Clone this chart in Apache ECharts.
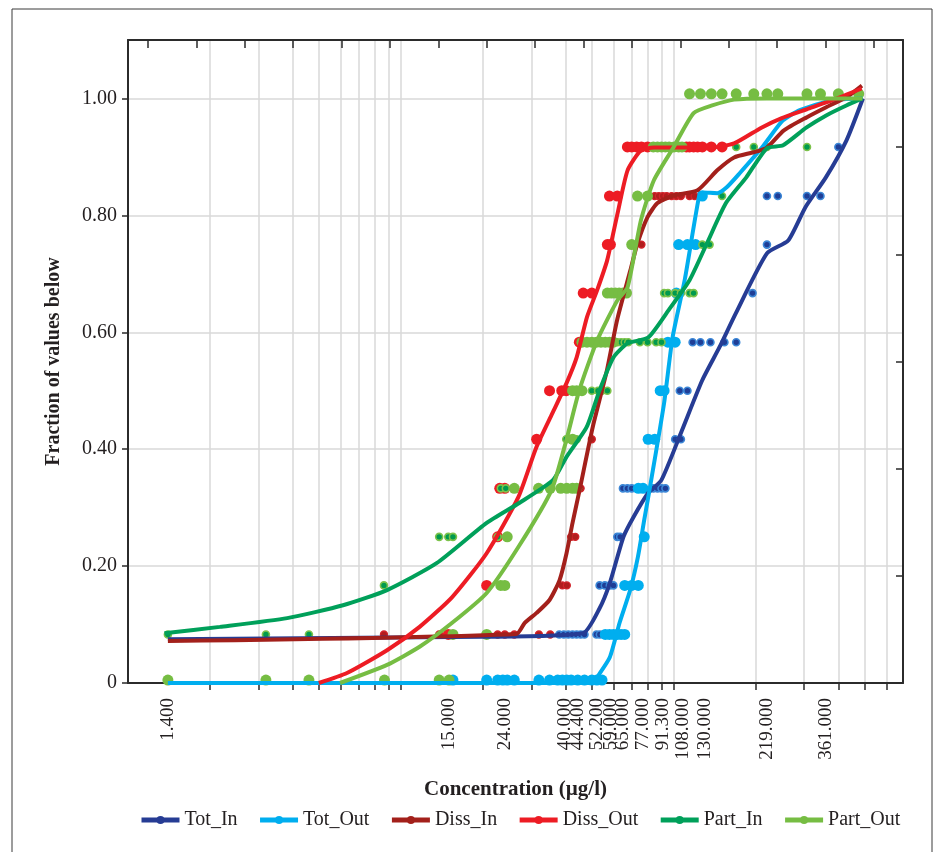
<!DOCTYPE html>
<html>
<head>
<meta charset="utf-8">
<script src="https://cdn.jsdelivr.net/npm/echarts@6/dist/echarts.min.js"></script>
<style>
  html, body { margin: 0; padding: 0; background: #fff; }
  #chart { width: 940px; height: 852px; }
</style>
</head>
<body>
<div id="chart"></div>
<script>
// Cumulative distribution of concentrations (µg/l), inflow vs outflow
const seriesNames = ['Tot_In', 'Tot_Out', 'Diss_In', 'Diss_Out', 'Part_In', 'Part_Out'];
const seriesColors = ['#263C94', '#00AEEF', '#A3201B', '#ED1C24', '#00A05A', '#76BD43'];

// Labelled concentrations along the bottom axis
const xLabelValues = [1.4, 15, 24, 40, 44.4, 52.2, 59, 65, 77, 91.3, 108, 130, 219, 361];
// Log grid positions (tick marks and vertical grid lines)
const xTickValues = [2, 3, 4, 5, 6, 7, 8, 9, 10, 20, 30, 40, 50, 60, 70, 80, 90, 100, 200, 300, 400, 500, 600];
const yTickValues = [0, 0.2, 0.4, 0.6, 0.8, 1.0];

// Fitted curves: [concentration, fraction]
const totInCurve = [[1.4, 0.075], [20, 0.079], [46.3, 0.085], [53.4, 0.128], [58.2, 0.171], [65.3, 0.25], [71.1, 0.284], [80.4, 0.325], [89.9, 0.347], [106.9, 0.432], [126.9, 0.518], [146.6, 0.574], [168.2, 0.632], [219, 0.735], [262, 0.757], [303, 0.814], [360, 0.865], [428, 0.928], [492, 1.0]];
const totOutCurve = [[1.4, 0.0], [50.8, 0.0], [52.1, 0.0085], [58.2, 0.044], [63.2, 0.103], [69.1, 0.159], [73.7, 0.215], [77.8, 0.279], [82.5, 0.347], [92.0, 0.479], [98.8, 0.591], [109.7, 0.692], [124.2, 0.838], [127.5, 0.839], [144, 0.838], [156, 0.848], [174, 0.872], [210, 0.916], [250, 0.962], [289, 0.98], [380, 0.997], [490, 1.0]];
const dissInCurve = [[1.4, 0.072], [26.5, 0.084], [28.4, 0.103], [31.4, 0.12], [35.0, 0.142], [38.1, 0.176], [40.4, 0.222], [42.5, 0.274], [45.1, 0.33], [50.4, 0.438], [56.8, 0.535], [61.9, 0.621], [69.2, 0.706], [73.5, 0.752], [80, 0.797], [87, 0.821], [99.5, 0.834], [122, 0.843], [144, 0.877], [166, 0.899], [196, 0.908], [219, 0.916], [252, 0.945], [307, 0.968], [361, 0.985], [428, 1.002], [488, 1.022]];
const dissOutCurve = [[5.0, 0.0], [6.34, 0.017], [8.89, 0.056], [11.7, 0.096], [15.4, 0.147], [20.6, 0.222], [26.9, 0.318], [31.3, 0.403], [35.9, 0.462], [40.4, 0.513], [44.0, 0.557], [48.0, 0.626], [52.3, 0.672], [56.9, 0.723], [62.1, 0.803], [67.6, 0.877], [75.6, 0.911], [84.4, 0.916], [137, 0.916], [166, 0.923], [209, 0.95], [247, 0.966], [313, 0.983], [380, 0.997], [487, 1.017]];
const partInCurve = [[1.36, 0.085], [2.17, 0.096], [3.83, 0.111], [6.13, 0.133], [8.89, 0.159], [13.5, 0.205], [20.6, 0.274], [27.1, 0.308], [36.0, 0.347], [40.3, 0.386], [47.9, 0.438], [53.4, 0.501], [60.0, 0.557], [67.6, 0.581], [80.4, 0.591], [95.6, 0.638], [114, 0.689], [132, 0.752], [155, 0.821], [184, 0.865], [219, 0.915], [251, 0.92], [305, 0.95], [361, 0.971], [428, 0.988], [490, 1.0]];
const partOutCurve = [[5.98, 0.0], [8.89, 0.031], [11.7, 0.062], [15.4, 0.103], [20.6, 0.154], [27.2, 0.236], [35.6, 0.33], [40.3, 0.415], [45, 0.501], [52.3, 0.586], [62.1, 0.655], [67.6, 0.677], [75.6, 0.791], [84.4, 0.86], [99.5, 0.916], [118, 0.975], [138, 0.988], [166, 0.998], [219, 1.0], [490, 1.0]];

// Observed values: [concentration, fraction]
const totInDots = [[38, 0.083], [39.5, 0.083], [41, 0.083], [42.5, 0.083], [44, 0.083], [45.5, 0.083], [47, 0.083], [52, 0.083], [53.5, 0.083],
  [53.4, 0.167], [55.8, 0.167], [58.2, 0.167], [60, 0.167], [62, 0.25], [63.5, 0.25],
  [65, 0.333], [67.5, 0.333], [70, 0.333], [84, 0.333], [87, 0.333], [90, 0.333], [93, 0.333],
  [101, 0.417], [106, 0.417], [105, 0.5], [112, 0.5],
  [117, 0.583], [125, 0.583], [136, 0.583], [153, 0.583], [169, 0.583], [194, 0.667], [219, 0.75],
  [219, 0.833], [240, 0.833], [307, 0.833], [344, 0.833], [400, 0.917]];
const totOutDots = [[15.5, 0.005], [20.6, 0.005], [22.6, 0.005], [23.6, 0.005], [24.5, 0.005], [26, 0.005], [32, 0.005], [35, 0.005], [37.5, 0.005], [39, 0.005], [40.5, 0.005], [42, 0.005], [44.4, 0.005], [47, 0.005], [50, 0.005], [52.2, 0.005], [54.5, 0.005],
  [56, 0.083], [58, 0.083], [60, 0.083], [62, 0.083], [64, 0.083], [66, 0.083],
  [66, 0.167], [70, 0.167], [74, 0.167], [77.8, 0.25], [74, 0.333], [77, 0.333],
  [80.4, 0.417], [85, 0.417], [89, 0.5], [92, 0.5], [95, 0.583], [101, 0.583], [102, 0.667],
  [104, 0.75], [112, 0.75], [120, 0.75], [127, 0.833]];
const dissInDots = [[8.66, 0.083], [13.8, 0.083], [22.6, 0.083], [24, 0.083], [26, 0.083], [32, 0.083], [35.2, 0.083],
  [39, 0.167], [40.5, 0.167], [42, 0.25], [43.5, 0.25], [45.5, 0.333], [50, 0.417], [76, 0.75],
  [85, 0.833], [88, 0.833], [91, 0.833], [94, 0.833], [98, 0.833], [102, 0.833], [106, 0.833], [114, 0.833], [119, 0.833]];
const dissOutDots = [[14.9, 0.083], [20.6, 0.167], [22.6, 0.25], [23, 0.333], [24, 0.333], [31.4, 0.417],
  [35, 0.5], [38.8, 0.5], [40.3, 0.5], [45, 0.583], [46.5, 0.667], [50, 0.667], [57, 0.75], [58.5, 0.75], [58, 0.833], [62, 0.833],
  [67.5, 0.917], [70, 0.917], [73, 0.917], [76, 0.917], [80, 0.917], [111, 0.917], [114, 0.917], [118, 0.917], [122, 0.917], [127, 0.917], [137, 0.917], [150, 0.917]];
const partInDots = [[1.4, 0.083], [3.2, 0.083], [4.6, 0.083], [8.66, 0.167], [13.8, 0.25], [14.9, 0.25], [15.5, 0.25], [22.6, 0.25],
  [23.2, 0.333], [24.2, 0.333], [40, 0.333], [42, 0.333], [40.3, 0.417], [42, 0.417], [44, 0.417],
  [50, 0.5], [52.7, 0.5], [54.5, 0.5], [57, 0.5],
  [60, 0.583], [62, 0.583], [64, 0.583], [66, 0.583], [68, 0.583], [75, 0.583], [80, 0.583], [86, 0.583], [90, 0.583],
  [92, 0.667], [95, 0.667], [101, 0.667], [106, 0.667], [114, 0.667], [118, 0.667], [127, 0.75], [135, 0.75], [150, 0.833],
  [169, 0.917], [196, 0.917], [219, 0.917], [307, 0.917], [475, 1.005]];
const partOutDots = [[1.4, 0.005], [3.2, 0.005], [4.6, 0.005], [8.7, 0.005], [13.8, 0.005], [15, 0.005], [15.5, 0.083], [20.6, 0.083],
  [23.2, 0.167], [24, 0.167], [24.5, 0.25],
  [26, 0.333], [31.9, 0.333], [35.2, 0.333], [38.5, 0.333], [40.5, 0.333], [42.5, 0.333], [44, 0.333], [42.5, 0.417],
  [42.5, 0.5], [44, 0.5], [46, 0.5], [46, 0.583], [48, 0.583], [50, 0.583], [52, 0.583], [54, 0.583], [56, 0.583], [58, 0.583], [60, 0.583],
  [57, 0.667], [59, 0.667], [61, 0.667], [63, 0.667], [65, 0.667], [67, 0.667], [70, 0.75], [73.5, 0.833], [80, 0.833],
  [84, 0.917], [87, 0.917], [90, 0.917], [93, 0.917], [96, 0.917], [100, 0.917], [104, 0.917], [107, 0.917],
  [114, 1.008], [125, 1.008], [137, 1.008], [150, 1.008], [169, 1.008], [196, 1.008], [219, 1.008], [240, 1.008], [307, 1.008], [344, 1.008], [400, 1.008], [475, 1.008]];

const curves = [totInCurve, totOutCurve, dissInCurve, dissOutCurve, partInCurve, partOutCurve];
const dots = [totInDots, totOutDots, dissInDots, dissOutDots, partInDots, partOutDots];

// Small ringed markers for inflow, large solid markers for outflow
const dotStyles = [
  { size: 7, color: '#1F3E96', border: '#3B86D6', width: 1.6 },
  { size: 11, color: '#00AEEF', border: '#00AEEF', width: 0 },
  { size: 7, color: '#B01E1E', border: '#D2232A', width: 1.3 },
  { size: 11, color: '#ED1C24', border: '#ED1C24', width: 0 },
  { size: 7, color: '#009A4E', border: '#7CC24A', width: 1.6 },
  { size: 11, color: '#76BD43', border: '#76BD43', width: 0 }
];

const FONT = "'Liberation Serif', 'DejaVu Serif', serif";
const AXIS_COLOR = '#2b2b2b';
const TEXT_COLOR = '#231f20';

const series = [];
seriesNames.forEach((name, i) => {
  series.push({
    name: name,
    type: 'line',
    data: curves[i],
    smooth: 0.2,
    symbol: 'circle',
    symbolSize: dotStyles[i].size,
    showSymbol: false,
    lineStyle: { color: seriesColors[i], width: 4 },
    itemStyle: { color: seriesColors[i] },
    z: 4 + i * 0.1,
    silent: true,
    animation: false
  });
});
seriesNames.forEach((name, i) => {
  const st = dotStyles[i];
  series.push({
    name: name,
    type: 'scatter',
    data: dots[i],
    symbol: 'circle',
    symbolSize: st.size,
    itemStyle: { color: st.color, borderColor: st.border, borderWidth: st.width, opacity: 1 },
    z: 2 + i * 0.1,
    silent: true,
    animation: false
  });
});

const chart = echarts.init(document.getElementById('chart'), null, { renderer: 'canvas' });
chart.setOption({
  backgroundColor: '#ffffff',
  animation: false,
  textStyle: { fontFamily: FONT },
  grid: { left: 128, top: 40, right: 37, bottom: 169, containLabel: false },
  graphic: [{
    type: 'rect',
    shape: { x: 12, y: 9, width: 920, height: 870 },
    style: { fill: 'none', stroke: '#3a3a3a', lineWidth: 1 },
    silent: true,
    z: 100
  }],
  legend: {
    data: seriesNames,
    bottom: 17,
    left: 134,
    itemWidth: 38,
    itemHeight: 10,
    itemGap: 20,
    lineStyle: { width: 5 },
    textStyle: { fontFamily: FONT, fontSize: 20, color: TEXT_COLOR }
  },
  xAxis: [{
    type: 'log',
    logBase: 10,
    min: 1,
    max: 690,
    position: 'bottom',
    name: 'Concentration (µg/l)',
    nameLocation: 'middle',
    nameGap: 96,
    nameTextStyle: { fontFamily: FONT, fontSize: 21, fontWeight: 'bold', color: TEXT_COLOR },
    axisLine: { show: true, onZero: false, lineStyle: { color: AXIS_COLOR, width: 2 } },
    axisTick: { show: true, inside: false, length: 7, customValues: xTickValues, lineStyle: { color: AXIS_COLOR, width: 1.5 } },
    axisLabel: {
      customValues: xLabelValues,
      rotate: 90,
      margin: 15,
      fontFamily: FONT,
      fontSize: 19,
      color: TEXT_COLOR,
      formatter: v => Number(v).toFixed(3)
    },
    splitLine: { show: true, lineStyle: { color: '#d9d9d9', width: 1.5 } },
    minorTick: { show: false },
    minorSplitLine: { show: false }
  }, {
    type: 'value',
    min: -0.41,
    max: 15.6,
    position: 'top',
    axisLine: { show: true, onZero: false, lineStyle: { color: AXIS_COLOR, width: 2 } },
    axisTick: { show: true, inside: true, length: 8, customValues: [0, 1, 2, 3, 4, 5, 6, 7, 8, 9, 10, 11, 12, 13, 14, 15], lineStyle: { color: AXIS_COLOR, width: 1.5 } },
    axisLabel: { show: false },
    splitLine: { show: false }
  }],
  yAxis: [{
    type: 'value',
    min: 0,
    max: 1.1,
    position: 'left',
    name: 'Fraction of values below',
    nameLocation: 'middle',
    nameGap: 64,
    nameTextStyle: { fontFamily: FONT, fontSize: 20, fontWeight: 'bold', color: TEXT_COLOR },
    axisLine: { show: true, onZero: false, lineStyle: { color: AXIS_COLOR, width: 2 } },
    axisTick: { show: true, inside: false, length: 6, customValues: yTickValues, lineStyle: { color: AXIS_COLOR, width: 1.5 } },
    axisLabel: {
      customValues: yTickValues,
      margin: 11,
      fontFamily: FONT,
      fontSize: 20,
      color: TEXT_COLOR,
      formatter: v => (v === 0 ? '0' : Number(v).toFixed(2))
    },
    splitLine: { show: true, lineStyle: { color: '#d9d9d9', width: 1.5 } }
  }, {
    type: 'value',
    min: 0,
    max: 6,
    interval: 1,
    position: 'right',
    axisLine: { show: true, onZero: false, lineStyle: { color: AXIS_COLOR, width: 2 } },
    axisTick: { show: true, inside: true, length: 7, lineStyle: { color: AXIS_COLOR, width: 1.5 } },
    axisLabel: { show: false },
    splitLine: { show: false }
  }],
  series: series
});
</script>
</body>
</html>
